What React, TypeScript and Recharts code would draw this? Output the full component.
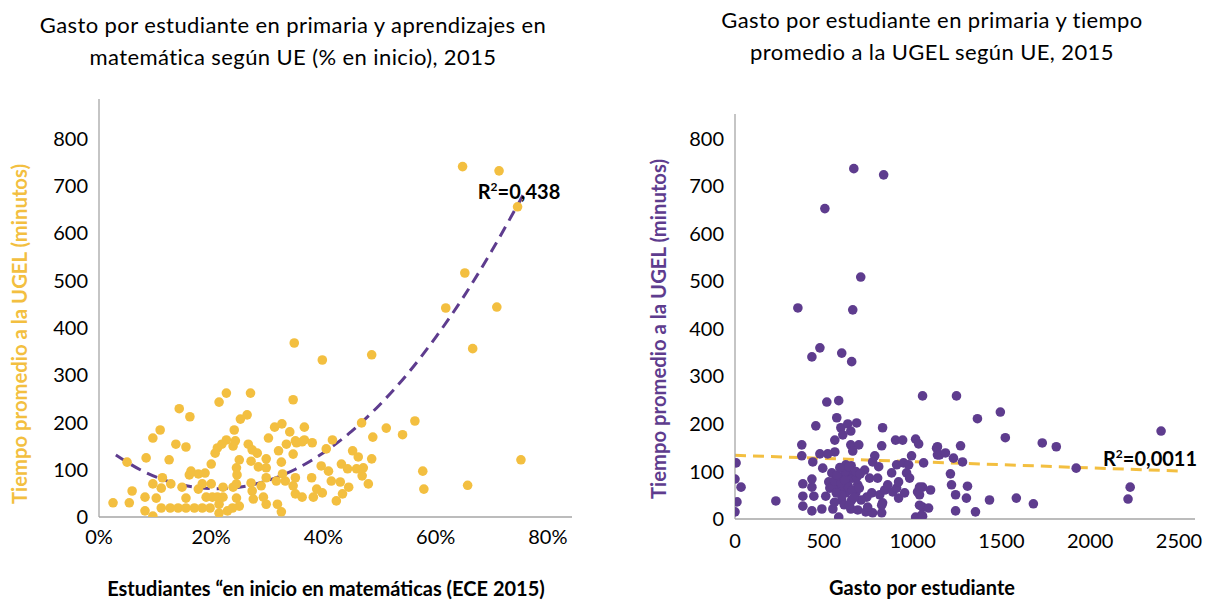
import React from "react"
import { ComposedChart, Scatter, Line, XAxis, YAxis } from "recharts"

const ORANGE = "#F3BF40"
const PURPLE = "#5E3C8E"
const AXIS = "#A6A6A6"
const FONT = "Lato, 'Open Sans', sans-serif"

// ── Left: % en inicio (ECE 2015) vs tiempo a la UGEL ─────────
const pctInicio = [
  2.5, 5, 5.4, 5.9, 8.2, 8.2, 9.6, 8.4, 9.6, 10.9, 9.6, 10.2, 11.3, 11.1, 11.1, 12.5, 12.8, 12.7,
  14.3, 13.7, 14.1, 15.5, 16.2, 14.8, 15.5, 15.5, 16.1, 16.4, 17, 17.7, 17.7, 18.4, 18.4, 18.9,
  19.1, 19.8, 20, 20, 20.2, 20.7, 21.1, 21.4, 22.7, 21.9, 22.7, 21.1, 21.4, 21.4, 22.1, 22.1,
  22.9, 23.8, 23.9, 24.1, 23.9, 24.3, 24.5, 24.6, 25, 25.2, 26.4, 27, 24.5, 25, 24.5, 26.6, 27.3,
  27.1, 27.1, 27.3, 27.5, 28.2, 28.4, 28.9, 29.3, 29.8, 29.8, 29.8, 29.8, 30.2, 31.3, 32.6, 32,
  32.5, 31.6, 31.8, 32.5, 32.7, 33.2, 33.4, 34, 34.6, 34.8, 34.6, 35, 35, 34.6, 35, 36.6, 36.6,
  35.2, 36.2, 38, 41.6, 40.5, 46.8, 48.8, 51.2, 45.2, 46.2, 48.6, 43.2, 44.3, 45.9, 47.1, 46.9,
  48, 39.6, 40.9, 41.4, 43, 44.5, 37.9, 38.8, 39.8, 38.2, 42.3, 43.4, 36.2, 64.8, 71.3, 74.6,
  65.2, 61.8, 70.9, 66.6, 39.8, 48.6, 75.2, 57.7, 57.9, 65.7, 56.3, 54.1,
]
const tiempoIzq = [
  30, 116, 30, 55, 42, 13, 2, 125, 167, 184, 70, 40, 83, 61, 19, 121, 70, 19,
  229, 154, 19, 148, 212, 63, 40, 19, 89, 97, 19, 91, 59, 70, 19, 93,
  42, 19, 112, 70, 42, 135, 146, 243, 262, 154, 163, 42, 27, 8, 63, 42,
  13, 19, 63, 184, 150, 161, 104, 89, 121, 207, 216, 262, 40, 23, 70, 154, 142,
  118, 72, 55, 38, 135, 106, 66, 42, 27, 123, 104, 83, 167, 190, 197, 140,
  116, 76, 27, 11, 91, 76, 154, 180, 248, 368, 133, 161, 83, 66, 49, 163, 190,
  157, 159, 157, 163, 144, 199, 169, 188, 140, 127, 123, 112, 102, 102, 104, 87,
  70, 108, 97, 76, 74, 63, 83, 59, 51, 42, 34, 49, 42, 741, 732, 656,
  516, 442, 444, 356, 332, 343, 121, 97, 59, 67, 203, 174,
]
// puntos leídos sobre la línea de tendencia punteada
const trendIzqX = [3, 8, 13, 18, 21, 25, 30, 35, 40, 45, 50, 55, 60, 65, 70, 76]
const trendIzqY = [131, 96, 73, 62, 60, 63, 77, 101, 136, 181, 237, 303, 380, 466, 563, 690]

// ── Right: gasto por estudiante vs tiempo a la UGEL ──────────
const gasto = [
  669, 837, 506, 708, 354, 663, 478, 433, 601, 657,
  517, 584, 455, 573, 596, 635, 685, 652, 607, 562, 652, 697, 663, 562, 478, 522, 376, 376, 438, 494,
  831, 826, 904, 944, 1017, 1034, 1056, 787, 994, 1135, 1140, 1062, 624, 654, 775, 809, 730, 758, 803,
  910, 949, 978, 966, 983, 882,
  6, 0, 34, 11, 0, 230,
  382, 433, 433, 382, 444, 382, 433, 489, 511, 551, 584, 545, 528, 534, 584, 607, 635, 635, 663, 685,
  691, 680, 624, 590, 551, 601, 657, 652, 691, 736, 775, 826, 747, 742, 770, 815, 843, 860, 888, 910,
  921, 955, 921, 831, 826,
  1028, 1056, 1101, 1056, 1090, 1017, 1056, 1039, 1039, 1039, 1051,
  1247, 1365, 1494, 1522, 1730, 1809, 2399, 1140, 1152, 1185, 1270, 1230, 1281, 1213, 1219, 1309,
  1242, 1303, 1433, 1584, 1680, 1242, 1354, 1921, 2225, 2213,
  560, 575, 596, 618, 640, 660, 600, 615, 645, 570, 620, 680, 700, 710, 560, 640, 590, 705, 670,
]
const tiempoDer = [
  737, 724, 653, 509, 444, 440, 360, 341, 349, 331,
  246, 249, 196, 213, 192, 200, 202, 185, 177, 166, 156, 156, 143, 141, 137, 137, 156, 133, 120, 107,
  192, 154, 166, 166, 168, 158, 259, 133, 133, 149, 135, 118, 114, 112, 120, 110, 103, 86, 86,
  114, 118, 114, 97, 86, 97,
  118, 84, 67, 36, 15, 38,
  74, 67, 84, 48, 48, 27, 17, 21, 48, 21, 4, 97, 78, 65, 88, 88, 97, 72, 86, 88,
  72, 55, 55, 65, 69, 40, 40, 21, 19, 15, 13, 13, 25, 46, 55, 51, 61, 72, 57, 65,
  44, 55, 78, 34, 29,
  57, 67, 61, 25, 23, 4, 6, 67, 51, 29, 8,
  259, 211, 225, 171, 160, 152, 185, 152, 135, 139, 154, 128, 120, 95, 72, 69,
  51, 44, 40, 44, 32, 17, 15, 107, 67, 42,
  80, 92, 76, 82, 66, 60, 50, 30, 30, 55, 100, 100, 65, 40, 35, 110, 108, 95, 45,
]
const trendDerX = [0, 2500]
const trendDerY = [134, 101]

const yTicks = [0, 100, 200, 300, 400, 500, 600, 700, 800]

const leftPoints = pctInicio.map((x, i) => ({ x, y: tiempoIzq[i] }))
const leftTrend = trendIzqX.map((x, i) => ({ x, y: trendIzqY[i] }))
const rightPoints = gasto.map((x, i) => ({ x, y: tiempoDer[i] }))
const rightTrend = trendDerX.map((x, i) => ({ x, y: trendDerY[i] }))

const tickStyle = { fill: "#000", fontSize: 20, fontFamily: FONT }

const abs = (s: React.CSSProperties): React.CSSProperties => ({ position: "absolute", fontFamily: FONT, ...s })

function YLabel({ text, color, cx, cy }: { text: string; color: string; cx: number; cy: number }) {
  return (
    <div
      style={abs({
        left: cx - 250,
        top: cy - 13,
        width: 500,
        height: 26,
        lineHeight: "26px",
        textAlign: "center",
        transform: "rotate(-90deg)",
        color,
        fontWeight: 700,
        fontSize: 20.3,
      })}
    >
      {text}
    </div>
  )
}

function R2({ value, cx, cy }: { value: string; cx: number; cy: number }) {
  return (
    <div style={abs({ left: cx - 80, top: cy - 13, width: 160, textAlign: "center", fontWeight: 700, fontSize: 20, lineHeight: "26px" })}>
      R<sup style={{ fontSize: 12, verticalAlign: "8px" }}>2</sup>=
      {value}
    </div>
  )
}

const titleStyle = { textAlign: "center" as const, fontSize: 22, letterSpacing: 0.4, lineHeight: "32px", color: "#000" }

export default function App() {
  return (
    <div style={{ position: "absolute", left: 0, top: 0, width: 1206, height: 601, background: "#fff", overflow: "hidden" }}>
      <div style={abs({ left: -7, top: 9, width: 600, ...titleStyle })}>
        Gasto por estudiante en primaria y aprendizajes en
        <br />
        matemática según UE (% en inicio), 2015
      </div>
      <div style={abs({ left: 632, top: 4, width: 600, ...titleStyle })}>
        Gasto por estudiante en primaria y tiempo
        <br />
        promedio a la UGEL según UE, 2015
      </div>

      <div style={{ position: "absolute", left: 0, top: 0 }}>
        <ComposedChart width={600} height={601} margin={{ top: 99, right: 28, bottom: 54, left: 39 }}>
          <XAxis
            type="number"
            dataKey="x"
            domain={[0, 84.3]}
            ticks={[0, 20, 40, 60, 80]}
            interval={0}
            tickFormatter={(v) => `${v}%`}
            axisLine={{ stroke: AXIS, strokeWidth: 1.3 }}
            tickLine={false}
            tick={tickStyle}
            tickMargin={7}
            height={30}
            allowDataOverflow
          />
          <YAxis
            type="number"
            dataKey="y"
            domain={[0, 884]}
            ticks={yTicks}
            interval={0}
            axisLine={{ stroke: AXIS, strokeWidth: 1.3 }}
            tickLine={false}
            tick={tickStyle}
            tickMargin={5}
            width={60}
            allowDataOverflow
          />
          <Scatter
            data={leftPoints}
            fill={ORANGE}
            isAnimationActive={false}
            shape={(p: any) => <circle cx={p.cx} cy={p.cy} r={4.8} fill={ORANGE} />}
          />
          <Line
            data={leftTrend}
            dataKey="y"
            type="monotone"
            stroke={PURPLE}
            strokeWidth={3}
            strokeDasharray="11 7"
            dot={false}
            activeDot={false}
            isAnimationActive={false}
          />
        </ComposedChart>
      </div>

      <div style={{ position: "absolute", left: 600, top: 0 }}>
        <ComposedChart width={680} height={601} margin={{ top: 114, right: 85, bottom: 52, left: 75 }}>
          <XAxis
            type="number"
            dataKey="x"
            domain={[0, 2590]}
            ticks={[0, 500, 1000, 1500, 2000, 2500]}
            interval={0}
            axisLine={{ stroke: AXIS, strokeWidth: 1.3 }}
            tickLine={false}
            tick={tickStyle}
            tickMargin={9}
            height={30}
            allowDataOverflow
          />
          <YAxis
            type="number"
            dataKey="y"
            domain={[0, 852]}
            ticks={yTicks}
            interval={0}
            axisLine={{ stroke: AXIS, strokeWidth: 1.3 }}
            tickLine={false}
            tick={tickStyle}
            tickMargin={5}
            width={60}
            allowDataOverflow
          />
          <Line
            data={rightTrend}
            dataKey="y"
            type="linear"
            stroke={ORANGE}
            strokeWidth={3}
            strokeDasharray="11 7"
            dot={false}
            activeDot={false}
            isAnimationActive={false}
          />
          <Scatter
            data={rightPoints}
            fill={PURPLE}
            isAnimationActive={false}
            shape={(p: any) => <circle cx={p.cx} cy={p.cy} r={4.8} fill={PURPLE} />}
          />
        </ComposedChart>
      </div>

      <YLabel text="Tiempo promedio a la UGEL (minutos)" color={ORANGE} cx={19} cy={334} />
      <YLabel text="Tiempo promedio a la UGEL (minutos)" color={PURPLE} cx={658} cy={329} />

      <R2 value="0,438" cx={519} cy={187} />
      <R2 value="0,0011" cx={1150} cy={454} />

      <div style={abs({ left: 26, top: 576, width: 600, textAlign: "center", fontWeight: 700, fontSize: 20, lineHeight: "24px" })}>
        Estudiantes “en inicio en matemáticas (ECE 2015)
      </div>
      <div style={abs({ left: 622, top: 576, width: 600, textAlign: "center", fontWeight: 700, fontSize: 20, lineHeight: "22px" })}>
        Gasto por estudiante
      </div>
    </div>
  )
}
